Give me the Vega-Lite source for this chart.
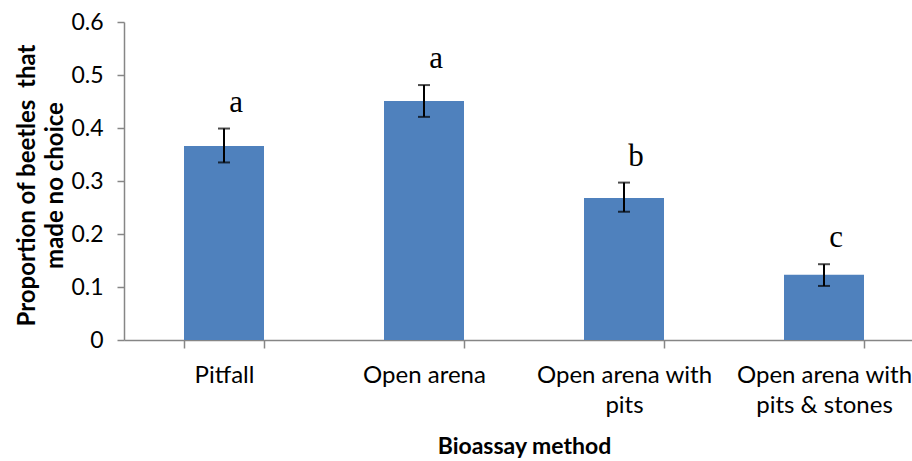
{
  "$schema": "https://vega.github.io/schema/vega-lite/v6.json",
  "width": 800,
  "height": 318,
  "autosize": "none",
  "padding": {"left": 124, "top": 22, "right": 0, "bottom": 121},
  "background": "white",
  "config": {"view": {"stroke": null}},
  "data": {
    "values": [
      {"method": "Pitfall", "proportion": 0.366, "lower": 0.335, "upper": 0.399, "group": "a"},
      {"method": "Open arena", "proportion": 0.451, "lower": 0.421, "upper": 0.481, "group": "a"},
      {"method": "Open arena with pits", "proportion": 0.268, "lower": 0.242, "upper": 0.297, "group": "b"},
      {"method": "Open arena with pits & stones", "proportion": 0.123, "lower": 0.102, "upper": 0.143, "group": "c"}
    ]
  },
  "encoding": {
    "x": {
      "field": "method",
      "type": "nominal",
      "sort": null,
      "scale": {"paddingInner": 0.6, "paddingOuter": 0.3},
      "axis": {
        "title": "Bioassay method",
        "titleFont": "Lato",
        "titleFontSize": 23,
        "titleFontWeight": "bold",
        "titleColor": "#000000",
        "titlePadding": 18,
        "labelAngle": 0,
        "labelFont": "Lato",
        "labelFontSize": 24,
        "labelColor": "#000000",
        "labelPadding": 15,
        "labelLineHeight": 30,
        "labelExpr": "datum.label == 'Open arena with pits' ? ['Open arena with', 'pits'] : datum.label == 'Open arena with pits & stones' ? ['Open arena with', 'pits & stones'] : datum.label",
        "tickBand": "extent",
        "tickSize": 8,
        "tickColor": "#868686",
        "domainColor": "#868686",
        "domainWidth": 1.5,
        "tickWidth": 1.5
      }
    }
  },
  "layer": [
    {
      "mark": {"type": "bar", "color": "#4F81BD"},
      "encoding": {
        "y": {
          "field": "proportion",
          "type": "quantitative",
          "scale": {"domain": [0, 0.6]},
          "axis": {
            "values": [0, 0.1, 0.2, 0.3, 0.4, 0.5, 0.6],
            "format": "~g",
            "grid": false,
            "title": ["Proportion of beetles\u00a0 that", "made no choice"],
            "titleFont": "Lato",
            "titleFontSize": 24,
            "titleFontWeight": "bold",
            "titleColor": "#000000",
            "titleLineHeight": 28,
            "titleBaseline": "middle",
            "titleAngle": -90,
            "titleX": -97,
            "titleY": 163,
            "labelFont": "Lato",
            "labelFontSize": 23,
            "labelColor": "#000000",
            "labelPadding": 14,
            "tickSize": 7,
            "tickColor": "#868686",
            "domainColor": "#868686",
            "domainWidth": 1.5,
            "tickWidth": 1.5
          }
        }
      }
    },
    {
      "mark": {"type": "rule", "color": "#000000", "strokeWidth": 2},
      "encoding": {
        "y": {"field": "lower", "type": "quantitative"},
        "y2": {"field": "upper"}
      }
    },
    {
      "mark": {"type": "tick", "color": "#000000", "size": 12, "thickness": 2},
      "encoding": {"y": {"field": "lower", "type": "quantitative"}}
    },
    {
      "mark": {"type": "tick", "color": "#000000", "size": 12, "thickness": 2},
      "encoding": {"y": {"field": "upper", "type": "quantitative"}}
    },
    {
      "mark": {"type": "text", "font": "Liberation Serif", "fontSize": 31, "baseline": "alphabetic", "dx": 12, "dy": -17, "color": "#000000"},
      "encoding": {
        "y": {"field": "upper", "type": "quantitative"},
        "text": {"field": "group"}
      }
    }
  ]
}
